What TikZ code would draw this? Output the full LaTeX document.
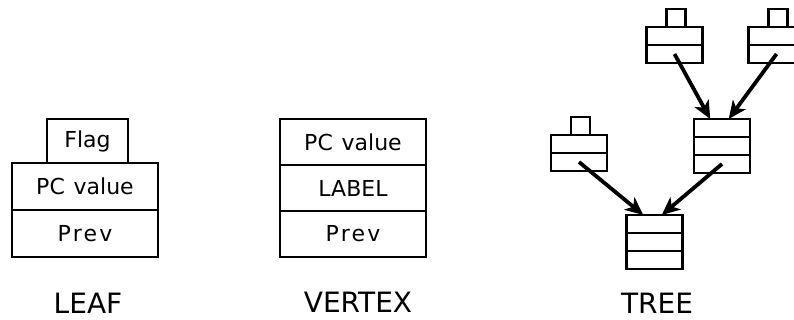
\documentclass[tikz,border=0pt]{standalone}
\usepackage{fontspec}
\setmainfont{DejaVu Sans}
\usetikzlibrary{arrows.meta, calc}

\tikzset{
  cell/.style={draw, line width=1.4pt, outer sep=0pt, inner sep=0pt,
    minimum width=73pt, minimum height=23.5pt, font=\fontsize{11}{13}\selectfont},
  tcell/.style={draw, line width=1.4pt, outer sep=0pt, inner sep=0pt,
    minimum width=28pt, minimum height=9pt},
  tflag/.style={tcell, minimum width=9.5pt},
  arr/.style={line width=1.9pt, -{Stealth[length=9pt, width=8pt, inset=2.5pt]}},
  caption/.style={font=\fontsize{14}{16}\selectfont}
}

% small leaf: #1 name, (#2,#3) centre of the lower cell
\providecommand{\TreeLeaf}[3]{%
  \node[tcell] (#1b) at (#2,#3) {};
  \node[tcell, anchor=south] (#1a) at (#1b.north) {};
  \node[tflag, anchor=south] (#1f) at ($ (#1a.north)+(1.5,0) $) {};
}
% small vertex: #1 name, (#2,#3) centre of the lowest cell
\providecommand{\TreeVertex}[3]{%
  \node[tcell] (#1c) at (#2,#3) {};
  \node[tcell, anchor=south] (#1b) at (#1c.north) {};
  \node[tcell, anchor=south] (#1a) at (#1b.north) {};
}

\begin{document}
\begin{tikzpicture}[x=0.5pt, y=-0.5pt]

	\useasboundingbox (0,0) rectangle (794,320);

	% leaf
	\node[cell] (leafPrev) at (85,233.5) {\addfontfeature{LetterSpace=10}Prev};
	\node[cell, anchor=south] (leafPC) at (leafPrev.north) {PC\hspace{0.4em}value};
	\node[cell, anchor=south, minimum width=40.5pt, minimum height=22pt] (leafFlag) at ($ (leafPC.north)+(2.5,0) $) {Flag};
	\node[caption] (leafCap) at (88,303) {LEAF};

	% vertex
	\node[cell, minimum height=23pt] (vxPrev) at (353,234) {\addfontfeature{LetterSpace=10}Prev};
	\node[cell, minimum height=23pt, anchor=south] (vxLabel) at (vxPrev.north) {LABEL};
	\node[cell, minimum height=23pt, anchor=south] (vxPC) at (vxLabel.north) {PC\hspace{0.4em}value};
	\node[caption] (vxCap) at (358,302) {VERTEX};

	% tree
	\TreeLeaf{tl}{674.5}{54}
	\TreeLeaf{tr}{776.5}{54}
	\TreeLeaf{lf}{579}{162}
	\TreeVertex{mid}{722}{164}
	\TreeVertex{bot}{654.5}{260}

	\draw[arr] (tlb.center) -- ($ (mida.north west)!.29!(mida.north east) $);
	\draw[arr] (trb.center) -- ($ (mida.north west)!.62!(mida.north east) $);
	\draw[arr] (lfb.center) -- ($ (bota.north west)!.3!(bota.north east) $);
	\draw[arr] (midc.center) -- ($ (bota.north west)!.63!(bota.north east) $);

	\node[caption] (treeCap) at (657,303) {TREE};

\end{tikzpicture}
\end{document}
